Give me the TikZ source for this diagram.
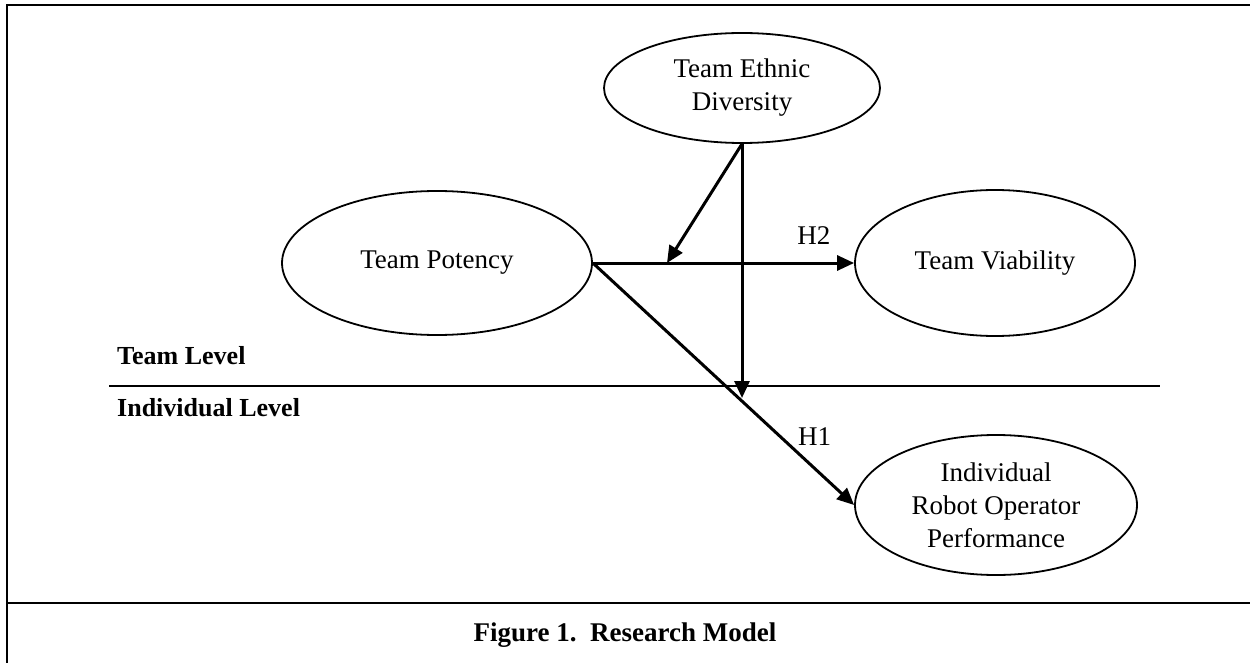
\documentclass[tikz,border=0pt]{standalone}
\usepackage{fontspec}
\setmainfont{Liberation Serif}
\usetikzlibrary{positioning}
\usetikzlibrary{shapes.geometric}
\usetikzlibrary{arrows.meta}

\begin{document}
\begin{tikzpicture}
		[x=1pt, y=-1pt,
		construct/.style={ellipse, draw=black, line width=1.8pt, inner sep=0pt, align=center, font=\fontsize{27}{33}\selectfont},
		effect/.style={line width=3pt, -{Triangle[length=17pt, width=15pt]}},
		hyp/.style={inner sep=0pt, font=\fontsize{27}{33}\selectfont},
		level/.style={inner sep=0pt, anchor=west, font=\fontsize{26}{30}\selectfont\bfseries}]
		\useasboundingbox (0,0) rectangle (1250,663);
		\draw[line width=2pt] (1250,5) -- (7,5) -- (7,663);
		\draw[line width=2pt] (7,603) -- (1250,603);
		\draw[line width=1.2pt] (109,386) -- (1160,386);

		\node[construct, minimum width=276pt, minimum height=110pt] (ed) at (742,88) {Team Ethnic\\Diversity};
		\node[construct, minimum width=310pt, minimum height=144pt] (tp) at (437,263) {Team Potency};
		\node[construct, minimum width=280pt, minimum height=146pt] (tv) at (995,263) {Team Viability};
		\node[construct, minimum width=282pt, minimum height=140pt] (irop) at (996,505) {Individual\\Robot Operator\\Performance};
		\coordinate (m1) at (742,398);
		\coordinate (m2) at (667,263);

		\draw[effect] (tp.east) -- (tv.west) node[hyp, pos=.846, above=17pt] {H2};
		\draw[effect] (tp.east) -- (irop.west) node[hyp, pos=.78, anchor=south west, yshift=5pt] {H1};
		\draw[effect] (ed.south) -- (m2);
		\draw[effect] (ed.south) -- (m1);

		\node[level] (team) at (117,356) {Team Level};
		\node[level] (indiv) at (117,408) {Individual Level};
		\node[font=\fontsize{27}{33}\selectfont\bfseries] (cap) at (625,635) {Figure 1.\ \ Research Model};
	\end{tikzpicture}
\end{document}
